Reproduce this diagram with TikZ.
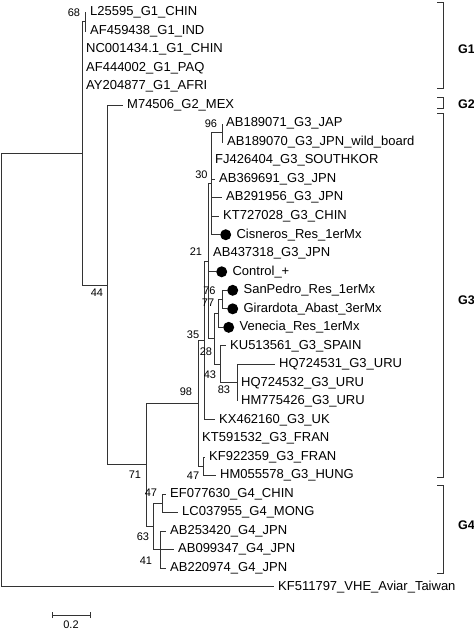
\documentclass[tikz,border=0pt]{standalone}
\usepackage{fontspec}
\setmainfont{Liberation Sans}
\usetikzlibrary{positioning, calc}
\definecolor{TreeGrey}{HTML}{333333}

\begin{document}
\begin{tikzpicture}[x=1pt, y=-1pt,
    branch/.style={draw=TreeGrey, line width=0.9pt},
    leaf/.style={anchor=west, inner xsep=4pt, inner ysep=1pt, font=\fontsize{13}{15}\selectfont},
    sample/.style={circle, fill=black, inner sep=0pt, minimum size=11pt, anchor=west},
    boot/.style={inner sep=0pt, font=\fontsize{11}{13}\selectfont},
    genotype/.style={anchor=west, inner sep=0pt, font=\fontsize{12.5}{14}\selectfont\bfseries}]
  \useasboundingbox (0,0) rectangle (474,630);
  \fill[white] (0,0) rectangle (474,630);

  % internal nodes of the tree
  \coordinate (root) at (1.5,370);
  \coordinate (nX)   at (82,153.4);
  \coordinate (b68)  at (85,21.76);
  \coordinate (b44)  at (107,285);
  \coordinate (b71)  at (146,464.9);
  \coordinate (b98)  at (198,403.45);
  \coordinate (b35)  at (204,340.65);
  \coordinate (b21)  at (208,261.36);
  \coordinate (b30)  at (211,183.81);
  \coordinate (b96)  at (222,132.88);
  \coordinate (b28)  at (214,338.9);
  \coordinate (b77)  at (218,313.45);
  \coordinate (b76)  at (222,299.56);
  \coordinate (b43)  at (220,364.38);
  \coordinate (b83)  at (237,382.9);
  \coordinate (b47a) at (203,466.24);
  \coordinate (g4)   at (153,526.4);
  \coordinate (b47b) at (162,503.28);
  \coordinate (b41)  at (160,549.58);

  \foreach \pa/\ch in {root/nX, nX/b68, nX/b44, b44/b71, b71/b98, b71/g4,
      b98/b35, b98/b47a, b35/b21, b21/b30, b21/b28, b30/b96, b28/b77,
      b28/b43, b77/b76, b43/b83, g4/b47b, g4/b41}
    \draw[branch] (\pa) |- (\ch);

  % reference sequences
  \foreach \id/\pa/\r/\e/\txt in {
      l1/b68/1/86/L25595\_G1\_CHIN,
      l2/b68/2/86/AF459438\_G1\_IND,
      l3/nX/3/82/NC001434.1\_G1\_CHIN,
      l4/nX/4/82/AF444002\_G1\_PAQ,
      l5/nX/5/82/AY204877\_G1\_AFRI,
      l6/b44/6/123/M74506\_G2\_MEX,
      l7/b96/7/222/AB189071\_G3\_JAP,
      l8/b96/8/223/AB189070\_G3\_JPN\_wild\_board,
      l9/b30/9/211/FJ426404\_G3\_SOUTHKOR,
      l10/b30/10/215/AB369691\_G3\_JPN,
      l11/b30/11/222/AB291956\_G3\_JPN,
      l12/b30/12/219/KT727028\_G3\_CHIN,
      l14/b21/14/209/AB437318\_G3\_JPN,
      l19/b43/19/226/KU513561\_G3\_SPAIN,
      l20/b83/20/275/HQ724531\_G3\_URU,
      l21/b83/21/237/HQ724532\_G3\_URU,
      l22/b83/22/237/HM775426\_G3\_URU,
      l23/b35/23/215/KX462160\_G3\_UK,
      l24/b98/24/198/KT591532\_G3\_FRAN,
      l25/b47a/25/205/KF922359\_G3\_FRAN,
      l26/b47a/26/216/HM055578\_G3\_HUNG,
      l27/b47b/27/166/EF077630\_G4\_CHIN,
      l28/b47b/28/178/LC037955\_G4\_MONG,
      l29/b41/29/166/AB253420\_G4\_JPN,
      l30/b41/30/174/AB099347\_G4\_JPN,
      l31/b41/31/166/AB220974\_G4\_JPN,
      l32/root/32/274/KF511797\_VHE\_Aviar\_Taiwan}{
    \node[leaf] (\id) at (\e,{12.5+18.52*(\r-1)}) {\txt};
    \draw[branch] (\pa) |- (\id.west);
  }

  % samples of this study
  \foreach \id/\pa/\r/\e/\txt in {
      l13/b30/13/220/Cisneros\_Res\_1erMx,
      l15/b21/15/216/Control\_+,
      l16/b76/16/227/SanPedro\_Res\_1erMx,
      l17/b76/17/227/Girardota\_Abast\_3erMx,
      l18/b77/18/223/Venecia\_Res\_1erMx}{
    \node[sample] (\id) at (\e,{12.5+18.52*(\r-1)}) {};
    \node[leaf, inner xsep=5pt] (\id t) at (\id.east) {\txt};
    \draw[branch] (\pa) |- (\id.west);
  }

  % bootstrap values
  \foreach \v/\x/\y [count=\k] in {68/74/13, 96/211/124, 30/201.5/175,
      21/196/252, 76/209.5/291, 77/208/303, 35/193/335, 28/206/352,
      43/210/375, 83/224/390, 98/186/392, 47/193/476, 71/135/475,
      47/151/493, 63/143/537, 41/146/561, 44/97/293}
    \node[boot] (bs\k) at (\x,\y) {\v};

  % genotype brackets
  \foreach \g/\t/\b/\m in {G1/2/88/49, G2/97/108/104, G3/113/477/300, G4/485/573/525}{
    \draw[branch] (437,\t) -- (443,\t) -- (443,\b) -- (437,\b);
    \node[genotype] (lab\g) at (458,\m) {\g};
  }

  % scale bar
  \coordinate (sbL) at (52,615);
  \coordinate (sbR) at (90,615);
  \draw[branch] (sbL) -- (sbR);
  \draw[branch] ([yshift=-3pt]sbL) -- ([yshift=3pt]sbL);
  \draw[branch] ([yshift=-3pt]sbR) -- ([yshift=3pt]sbR);
  \node[boot, below=6pt of $(sbL)!0.5!(sbR)$] (sbLab) {0.2};
\end{tikzpicture}
\end{document}
